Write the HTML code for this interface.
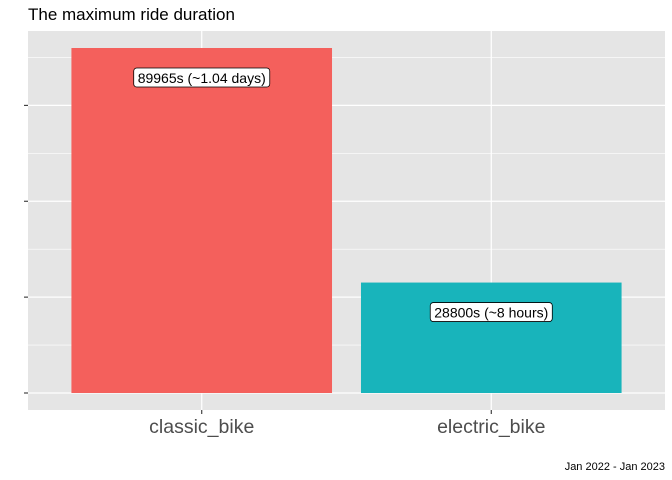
<!DOCTYPE html>
<html><head><meta charset="utf-8"><style>
body{margin:0;background:#fff;}
svg{display:block;font-family:"Liberation Sans",sans-serif;}
</style></head><body>
<svg id="chart" width="672" height="480">
<text x="28" y="20" font-size="17" fill="#000">The maximum ride duration</text>
<rect x="28" y="31" width="637" height="379" fill="#e5e5e5"/>
<g id="grid"></g>
<g id="bars"></g>
<g id="labels"></g>
<text x="665" y="470" font-size="11" text-anchor="end" fill="#000">Jan 2022 - Jan 2023</text>
</svg>
<script>
const categories = ["classic_bike", "electric_bike"];
const values = [89965, 28800];
const labelTexts = ["89965s (~1.04 days)", "28800s (~8 hours)"];
const yTicks = [0, 25000, 50000, 75000];
const colors = ["#f4605c", "#18b4bb"];

const NS = "http://www.w3.org/2000/svg";
const panelL = 28, panelR = 665, panelT = 31, panelB = 410;
const y0 = 393, yTop = 48, maxV = 89965;
function y(v){ return y0 - (v / maxV) * (y0 - yTop); }
const unit = (panelR - panelL) / (categories.length - 1 + 1.2);
function xc(i){ return panelL + unit * (0.6 + i); }
const barW = unit * 0.9;
function mk(tag, attrs, parent){ const e = document.createElementNS(NS, tag); for (const k in attrs) e.setAttribute(k, attrs[k]); parent.appendChild(e); return e; }
const grid = document.getElementById("grid");
const svg = document.getElementById("chart");
const step = yTicks[1] - yTicks[0];
yTicks.forEach(t => {
  const m = y(t + step / 2);
  if (m > panelT) { const l = mk("line", {x1: panelL, x2: panelR, y1: m, y2: m, stroke: "#fff", "stroke-width": 0.6}, grid);
    
     }
  const g = mk("line", {x1: panelL, x2: panelR, y1: y(t), y2: y(t), stroke: "#fff", "stroke-width": 1.2}, grid);
  
  
  const tk = mk("line", {x1: 24, x2: 28, y1: y(t), y2: y(t), stroke: "#333", "stroke-width": 1.1}, svg);
  
  
});
categories.forEach((c, i) => {
  const v = mk("line", {x1: xc(i), x2: xc(i), y1: panelT, y2: panelB, stroke: "#fff", "stroke-width": 1.2}, grid);
  
  
  const tk = mk("line", {x1: xc(i), x2: xc(i), y1: panelB, y2: panelB + 4, stroke: "#333", "stroke-width": 1.1}, svg);
  
  
  const b = mk("rect", {x: xc(i) - barW / 2, y: y(values[i]), width: barW, height: y0 - y(values[i]), fill: colors[i]}, document.getElementById("bars"));
  
  
  const xl = mk("text", {x: xc(i), y: 433, "font-size": 19.5, "text-anchor": "middle", fill: "#4d4d4d"}, svg);
  xl.textContent = c;
  
  
  const lg = document.getElementById("labels");
  const t = mk("text", {x: xc(i), y: y(values[i]) + 35, "font-size": 14, "text-anchor": "middle", fill: "#000"}, lg);
  t.textContent = labelTexts[i];
  const bb = t.getBBox();
  const r = mk("rect", {x: bb.x - 4, y: y(values[i]) + 20, width: bb.width + 8, height: 19, rx: 3, fill: "#fff", stroke: "#000", "stroke-width": 0.8}, lg);
  lg.insertBefore(r, t);
  
  
  
  
});
</script>
</body></html>
